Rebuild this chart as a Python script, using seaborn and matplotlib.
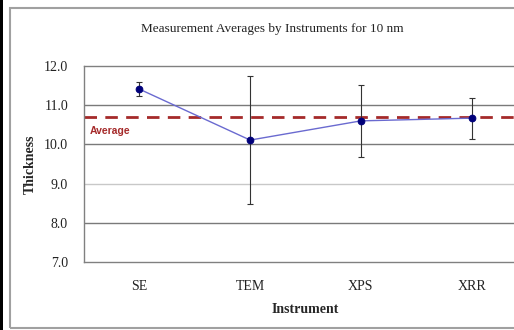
import matplotlib
matplotlib.use("Agg")
import matplotlib.pyplot as plt
import seaborn as sns
import numpy as np
import pandas as pd
from matplotlib.patches import Rectangle

instruments = ["SE", "TEM", "XPS", "XRR"]
thickness = [11.41, 10.11, 10.60, 10.67]
errors = [0.18, 1.63, 0.91, 0.52]
average_value = 10.70
y_ticks = [7.0, 8.0, 9.0, 10.0, 11.0, 12.0]

sns.set_style("white")
plt.rcParams["font.family"] = ["Liberation Serif", "DejaVu Serif"]

df = pd.DataFrame({"pos": np.arange(len(instruments)), "Thickness": thickness, "Instrument": instruments})

fig = plt.figure(figsize=(5.14, 3.30), dpi=100)
ax = fig.add_axes([84 / 514, 1 - 262 / 330, (527 - 84) / 514, (262 - 66) / 330])

# outer chart frame
fig.patches.append(Rectangle((10 / 514, 1 - 328 / 330), 1.2, (328 - 8) / 330,
                             transform=fig.transFigure, fill=False,
                             edgecolor="#a0a0a0", linewidth=1.5))
fig.patches.append(Rectangle((0, 0), 2.5 / 514, 1, transform=fig.transFigure,
                             facecolor="black", edgecolor="none"))

ax.set_xlim(-0.5, len(instruments) - 0.5)
ax.set_ylim(7.0, 12.0)
ax.set_yticks(y_ticks)
ax.set_yticklabels([f"{v:.1f}" for v in y_ticks], fontsize=10, color="#222222")

for v in y_ticks[1:-1]:
    ax.axhline(v, color="#c8c8c8" if v == 9.0 else "#7a7a7a", linewidth=1.0, zorder=0)

ax.axhline(average_value, color="#a52a2a", linestyle=(0, (4.5, 3)), linewidth=2.0, zorder=1)
ax.text(-0.45, average_value - 0.35, "Average", color="#a52a2a", fontsize=7.5,
        fontweight="bold", family="Liberation Sans", va="center", ha="left")

ax.errorbar(df["pos"], df["Thickness"], yerr=errors, fmt="none", ecolor="#333333",
            elinewidth=0.8, capsize=2.5, capthick=0.8, zorder=2)
sns.lineplot(data=df, x="pos", y="Thickness", ax=ax, color="#6a6ad0", linewidth=1.0,
             marker="o", markersize=4.8, markerfacecolor="#00007a",
             markeredgecolor="#00007a", zorder=3)

ax.set_xticks(df["pos"])
ax.set_xticklabels(instruments, fontsize=10, color="#222222")
ax.tick_params(axis="x", length=0, pad=13)
ax.set_xticks([0.5, 1.5, 2.5], minor=True)
ax.tick_params(axis="x", which="minor", direction="in", length=4, color="#666666")
ax.tick_params(axis="y", direction="out", length=2.5, color="#666666", pad=9)

ax.set_xlabel("Instrument", fontsize=10, fontweight="bold", labelpad=7)
ax.set_ylabel("Thickness", fontsize=10, fontweight="bold", labelpad=5)

for s in ax.spines.values():
    s.set_color("#808080")
    s.set_linewidth(1.0)

fig.text(272 / 514, 1 - 29 / 330, "Measurement Averages by Instruments for 10 nm",
         ha="center", va="center", fontsize=9.5, color="#222222")

fig.savefig("out.png", dpi=100)
